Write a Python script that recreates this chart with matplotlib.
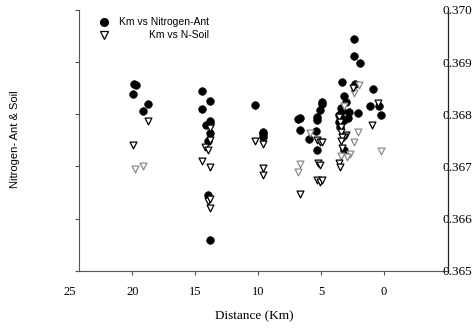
import matplotlib
matplotlib.use("Agg")
import matplotlib.pyplot as plt

# ---- data ----
ant_km = [19.89, 19.75, 19.99, 19.19, 18.79,
          14.47, 14.50, 13.86, 14.18, 13.86, 13.83, 13.86, 13.96, 14.02, 13.83,
          10.28, 9.61, 9.64, 9.61,
          6.84, 6.68, 6.70, 5.96, 5.42, 5.29, 5.29, 5.29, 5.10, 4.94, 4.94,
          3.37, 3.21, 3.02, 3.42, 3.32, 3.54, 3.38, 3.54, 3.46, 3.14, 2.77, 2.85,
          3.14, 2.40, 2.40, 1.89, 2.34, 2.08, 0.88, 1.09, 0.40, 0.21]
ant_n = [0.36859, 0.36857, 0.36839, 0.36807, 0.36820,
         0.36845, 0.36810, 0.36826, 0.36779, 0.36784, 0.36787, 0.36765, 0.36749, 0.36645, 0.36558,
         0.36817, 0.36766, 0.36757, 0.36762,
         0.36790, 0.36793, 0.36770, 0.36752, 0.36768, 0.36795, 0.36789, 0.36732, 0.36809, 0.36824, 0.36819,
         0.36862, 0.36836, 0.36824, 0.36812, 0.36806, 0.36799, 0.36793, 0.36785, 0.36776, 0.36789, 0.36805, 0.36792,
         0.36731, 0.36945, 0.36912, 0.36898, 0.36858, 0.36803, 0.36848, 0.36815, 0.36816, 0.36799]

soil_km = [19.97, 18.79,
           14.20, 14.02, 13.86, 13.86, 14.45, 13.83, 13.96, 13.86, 13.80,
           10.28, 9.61, 9.61, 9.61,
           6.70, 5.29, 5.10, 4.94, 5.21, 5.08, 5.29, 5.10, 4.94,
           2.44, 3.02, 3.16, 0.97, 0.44, 3.56, 3.50, 3.56, 3.46, 3.38, 3.42, 3.32, 3.42, 3.32]
soil_n = [0.36741, 0.36788,
          0.36738, 0.36732, 0.36773, 0.36750, 0.36710, 0.36698, 0.36634, 0.36637, 0.36621,
          0.36749, 0.36743, 0.36697, 0.36683,
          0.36648, 0.36751, 0.36747, 0.36746, 0.36706, 0.36703, 0.36673, 0.36671, 0.36673,
          0.36850, 0.36760, 0.36756, 0.36779, 0.36822, 0.36707, 0.36699, 0.36795, 0.36785, 0.36776,
          0.36766, 0.36756, 0.36749, 0.36735]

soil_light_km = [19.83, 19.14, 5.90, 6.70, 6.81, 1.96, 2.36, 2.04, 2.36, 2.71, 2.90, 0.25, 3.14, 3.38]
soil_light_n = [0.36695, 0.36701, 0.36765, 0.36704, 0.36689, 0.36856, 0.36840, 0.36766, 0.36747,
                0.36724, 0.36719, 0.36730, 0.36816, 0.36720]

x_ticks = [25, 20, 15, 10, 5, 0]
y_ticks = [0.365, 0.366, 0.367, 0.368, 0.369, 0.370]
y_tick_labels = ["0.365", "0.366", "0.367", "0.368", "0.369", "0.370"]

label_ant = "Km vs Nitrogen-Ant"
label_soil = "Km vs N-Soil"

# ---- figure ----
W, H = 474, 329
fig = plt.figure(figsize=(W / 100, H / 100), dpi=100)

x_left, x_right = 25.5, -5.09
spine_x = 24.25
ax_l = 63.2 / W
ax_r = 448 / W
ax_b = 1 - 270.7 / H
ax_t = 1 - 10 / H
ax = fig.add_axes([ax_l, ax_b, ax_r - ax_l, ax_t - ax_b])
ax.set_xlim(x_left, x_right)
ax.set_ylim(0.365, 0.370)

spine_col = "#555555"
ax.spines["top"].set_visible(False)
ax.spines["right"].set_visible(False)
ax.spines["left"].set_position(("data", spine_x))
ax.spines["left"].set_color(spine_col)
ax.spines["bottom"].set_bounds(spine_x, x_right)
ax.spines["bottom"].set_color(spine_col)

ax.set_xticks(x_ticks)
ax.set_xticklabels([str(t) for t in x_ticks], fontfamily="Liberation Serif", fontsize=9)
ax.tick_params(axis="x", direction="out", length=3, width=0.8, color=spine_col, pad=8)
ax.xaxis.get_major_ticks()[0].tick1line.set_visible(False)

ax.set_yticks(y_ticks)
ax.tick_params(axis="y", direction="out", length=3, width=0.8, color=spine_col, labelleft=False)

# right axis with labels
ax2 = ax.twinx()
ax2.set_position(ax.get_position())
ax2.set_ylim(0.365, 0.370)
ax2.set_yticks(y_ticks)
ax2.set_yticklabels(y_tick_labels, fontfamily="Liberation Serif", fontsize=9.5)
ax2.tick_params(axis="y", length=0, pad=-4)
for s in ["top", "left", "bottom"]:
    ax2.spines[s].set_visible(False)
ax2.spines["right"].set_color("#222222")
ax2.spines["right"].set_linewidth(0.9)

# data
ax.scatter(ant_km, ant_n, marker="o", s=30, facecolor="black", edgecolor="black",
           linewidths=0.5, zorder=3, clip_on=False)
ax.scatter(soil_light_km, soil_light_n, marker="v", s=24, facecolor="white",
           edgecolor="#8a8a8a", linewidths=0.9, zorder=4, clip_on=False)
ax.scatter(soil_km, soil_n, marker="v", s=24, facecolor="white",
           edgecolor="black", linewidths=0.9, zorder=4, clip_on=False)

# legend (manual, right aligned text)
fig.lines.append(plt.Line2D([104 / W], [1 - 22 / H], marker="o", markersize=5.5,
                            color="black", linestyle="none", transform=fig.transFigure))
fig.lines.append(plt.Line2D([104 / W], [1 - 35 / H], marker="v", markersize=5.2,
                            markerfacecolor="white", markeredgecolor="black",
                            markeredgewidth=0.9, linestyle="none", transform=fig.transFigure))
fig.text(209 / W, 1 - 22 / H, label_ant, ha="right", va="center",
         fontfamily="Liberation Sans", fontsize=7.5)
fig.text(209 / W, 1 - 35 / H, label_soil, ha="right", va="center",
         fontfamily="Liberation Sans", fontsize=7.5)

# axis titles
fig.text(254 / W, 1 - 316 / H, "Distance (Km)", ha="center", va="center",
         fontfamily="Liberation Serif", fontsize=9.5)
fig.text(15 / W, 1 - 139 / H, "Nitrogen- Ant & Soil", ha="center", va="center",
         rotation=90, fontfamily="Liberation Sans", fontsize=8)

fig.savefig("out.png", dpi=100)
